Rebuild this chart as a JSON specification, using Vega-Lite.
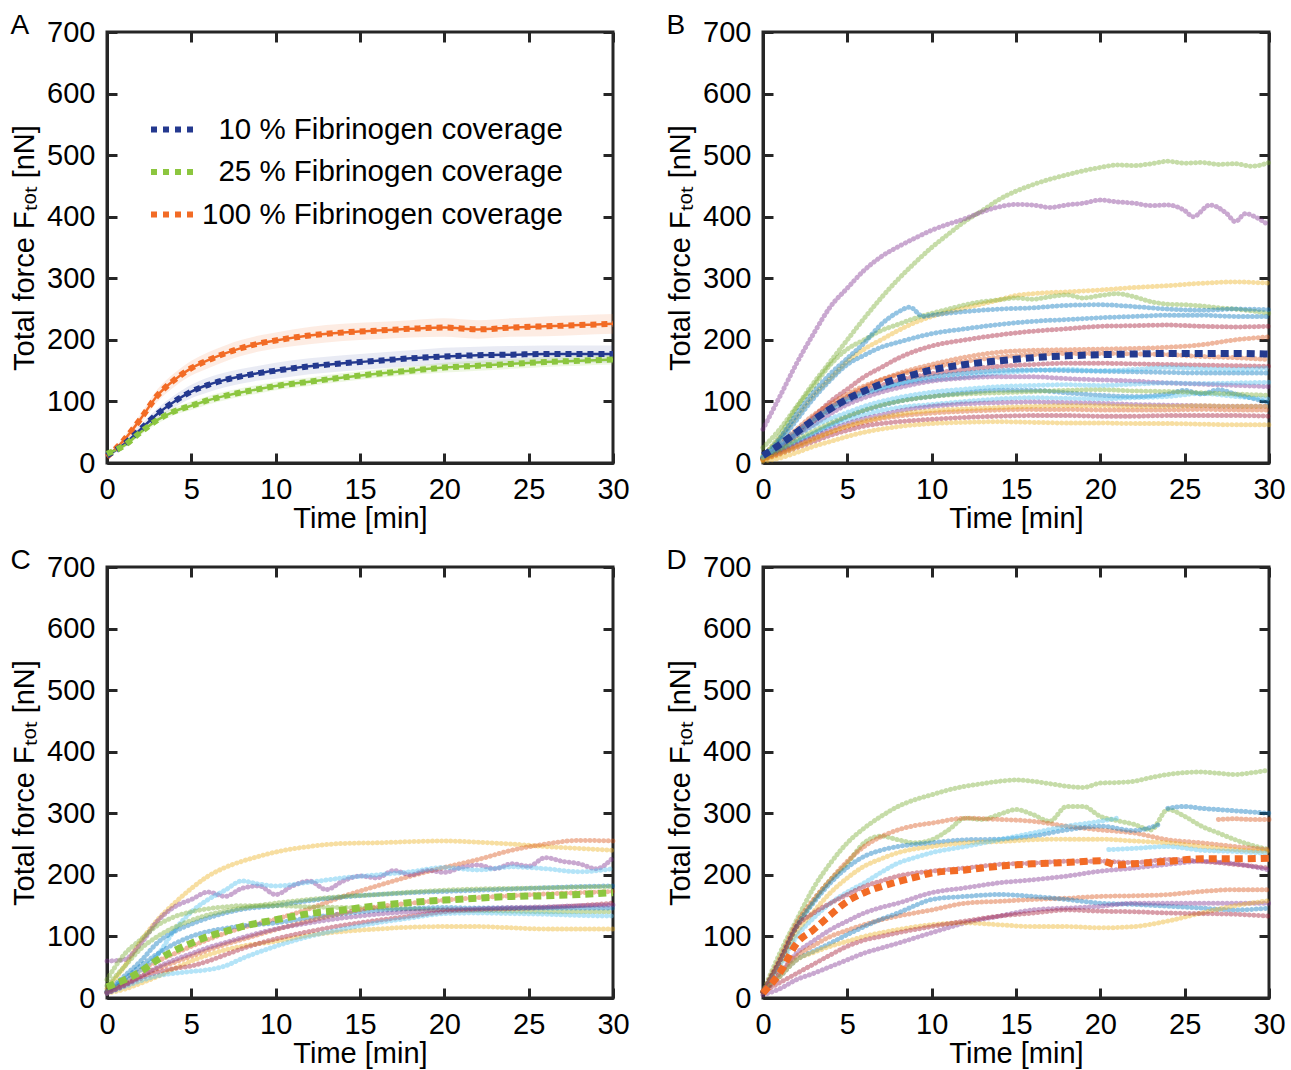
{
"$schema": "https://vega.github.io/schema/vega-lite/v6.json",
"background": "white",
"padding": {"left": 9, "top": 10, "right": 0, "bottom": 0},
"config": {
 "font": "Liberation Sans",
 "view": {"stroke": "#262626", "strokeWidth": 3},
 "axis": {"grid": false, "domainColor": "#262626", "domainWidth": 3, "tickColor": "#262626", "tickWidth": 3, "tickSize": -10, "labelPadding": 22, "labelFont": "Liberation Sans", "labelFontSize": 29, "labelColor": "#000000", "titleFont": "Liberation Sans", "titleFontSize": 29, "titleFontWeight": "normal", "titleColor": "#000000", "labelFlush": false, "labelOverlap": false},
 "axisX": {"titlePadding": 0},
 "axisY": {"titlePadding": 7},
 "title": {"font": "Liberation Sans", "fontSize": 28, "fontWeight": "normal", "color": "#000000", "anchor": "start", "frame": "bounds", "offset": -22}
},
"datasets": {
"A": [
{"g":"100","t":0,"m":10,"lo":7,"hi":13},{"g":"100","t":1,"m":37,"lo":31,"hi":43},{"g":"100","t":2,"m":72,"lo":64,"hi":80},{"g":"100","t":3,"m":110,"lo":100,"hi":120},{"g":"100","t":4,"m":135,"lo":124,"hi":146},{"g":"100","t":5,"m":154,"lo":142,"hi":166},{"g":"100","t":6,"m":167,"lo":154,"hi":180},{"g":"100","t":7,"m":178,"lo":165,"hi":191},{"g":"100","t":8,"m":187,"lo":174,"hi":200},{"g":"100","t":9,"m":194,"lo":181,"hi":207},{"g":"100","t":10,"m":199,"lo":186,"hi":212},{"g":"100","t":12,"m":207,"lo":193,"hi":221},{"g":"100","t":14,"m":212,"lo":198,"hi":226},{"g":"100","t":16,"m":215,"lo":201,"hi":229},{"g":"100","t":18,"m":218,"lo":204,"hi":232},{"g":"100","t":20,"m":220,"lo":205,"hi":235},{"g":"100","t":22,"m":217,"lo":202,"hi":232},{"g":"100","t":24,"m":220,"lo":205,"hi":235},{"g":"100","t":26,"m":222,"lo":206,"hi":238},{"g":"100","t":28,"m":224,"lo":208,"hi":240},{"g":"100","t":30,"m":226,"lo":210,"hi":242},
{"g":"10","t":0,"m":12,"lo":9,"hi":15},{"g":"10","t":1,"m":30,"lo":25,"hi":35},{"g":"10","t":2,"m":55,"lo":48,"hi":62},{"g":"10","t":3,"m":80,"lo":71,"hi":89},{"g":"10","t":4,"m":100,"lo":90,"hi":110},{"g":"10","t":5,"m":116,"lo":105,"hi":127},{"g":"10","t":6,"m":127,"lo":115,"hi":139},{"g":"10","t":7,"m":135,"lo":123,"hi":147},{"g":"10","t":8,"m":141,"lo":129,"hi":153},{"g":"10","t":9,"m":146,"lo":134,"hi":158},{"g":"10","t":10,"m":150,"lo":137,"hi":163},{"g":"10","t":12,"m":157,"lo":144,"hi":170},{"g":"10","t":14,"m":162,"lo":149,"hi":175},{"g":"10","t":16,"m":166,"lo":153,"hi":179},{"g":"10","t":18,"m":170,"lo":157,"hi":183},{"g":"10","t":20,"m":173,"lo":159,"hi":187},{"g":"10","t":22,"m":175,"lo":161,"hi":189},{"g":"10","t":24,"m":176,"lo":162,"hi":190},{"g":"10","t":26,"m":177,"lo":163,"hi":191},{"g":"10","t":28,"m":177,"lo":163,"hi":191},{"g":"10","t":30,"m":177,"lo":163,"hi":191},
{"g":"25","t":0,"m":15,"lo":12,"hi":18},{"g":"25","t":1,"m":28,"lo":24,"hi":32},{"g":"25","t":2,"m":50,"lo":45,"hi":55},{"g":"25","t":3,"m":70,"lo":64,"hi":76},{"g":"25","t":4,"m":84,"lo":78,"hi":90},{"g":"25","t":5,"m":93,"lo":86,"hi":100},{"g":"25","t":6,"m":102,"lo":95,"hi":109},{"g":"25","t":7,"m":109,"lo":102,"hi":116},{"g":"25","t":8,"m":115,"lo":108,"hi":122},{"g":"25","t":9,"m":120,"lo":113,"hi":127},{"g":"25","t":10,"m":125,"lo":118,"hi":132},{"g":"25","t":12,"m":132,"lo":125,"hi":139},{"g":"25","t":14,"m":139,"lo":132,"hi":146},{"g":"25","t":16,"m":145,"lo":138,"hi":152},{"g":"25","t":18,"m":150,"lo":143,"hi":157},{"g":"25","t":20,"m":155,"lo":147,"hi":163},{"g":"25","t":22,"m":158,"lo":150,"hi":166},{"g":"25","t":24,"m":161,"lo":153,"hi":169},{"g":"25","t":26,"m":164,"lo":156,"hi":172},{"g":"25","t":28,"m":166,"lo":158,"hi":174},{"g":"25","t":30,"m":168,"lo":160,"hi":176}
],
"B": [
{"c":"b1","t":0,"v":25},{"c":"b1","t":1,"v":55},{"c":"b1","t":2,"v":92},{"c":"b1","t":3,"v":130},{"c":"b1","t":4,"v":165},{"c":"b1","t":5,"v":200},{"c":"b1","t":6,"v":235},{"c":"b1","t":7,"v":268},{"c":"b1","t":8,"v":298},{"c":"b1","t":9,"v":325},{"c":"b1","t":10,"v":350},{"c":"b1","t":11,"v":372},{"c":"b1","t":12,"v":393},{"c":"b1","t":13,"v":410},{"c":"b1","t":14,"v":428},{"c":"b1","t":16,"v":452},{"c":"b1","t":18,"v":468},{"c":"b1","t":20,"v":480},{"c":"b1","t":21,"v":484},{"c":"b1","t":22,"v":483},{"c":"b1","t":23,"v":486},{"c":"b1","t":24,"v":490},{"c":"b1","t":25,"v":487},{"c":"b1","t":26,"v":488},{"c":"b1","t":27,"v":485},{"c":"b1","t":28,"v":486},{"c":"b1","t":29,"v":482},{"c":"b1","t":30,"v":488},
{"c":"b2","t":0,"v":55},{"c":"b2","t":1,"v":108},{"c":"b2","t":2,"v":162},{"c":"b2","t":3,"v":210},{"c":"b2","t":4,"v":254},{"c":"b2","t":5,"v":284},{"c":"b2","t":6,"v":313},{"c":"b2","t":7,"v":335},{"c":"b2","t":8,"v":351},{"c":"b2","t":9,"v":365},{"c":"b2","t":10,"v":378},{"c":"b2","t":11,"v":388},{"c":"b2","t":12,"v":397},{"c":"b2","t":13,"v":408},{"c":"b2","t":14,"v":416},{"c":"b2","t":15,"v":420},{"c":"b2","t":16,"v":419},{"c":"b2","t":17,"v":415},{"c":"b2","t":18,"v":419},{"c":"b2","t":19,"v":422},{"c":"b2","t":20,"v":427},{"c":"b2","t":21,"v":424},{"c":"b2","t":22,"v":422},{"c":"b2","t":23,"v":418},{"c":"b2","t":24,"v":419},{"c":"b2","t":25,"v":410},{"c":"b2","t":25.5,"v":400},{"c":"b2","t":26.5,"v":419},{"c":"b2","t":27.5,"v":405},{"c":"b2","t":28,"v":392},{"c":"b2","t":28.6,"v":405},{"c":"b2","t":29.3,"v":398},{"c":"b2","t":30,"v":386},
{"c":"b3","t":0,"v":12},{"c":"b3","t":1,"v":40},{"c":"b3","t":2,"v":75},{"c":"b3","t":3,"v":110},{"c":"b3","t":4,"v":138},{"c":"b3","t":5,"v":165},{"c":"b3","t":6,"v":185},{"c":"b3","t":7,"v":200},{"c":"b3","t":8,"v":215},{"c":"b3","t":9,"v":228},{"c":"b3","t":10,"v":238},{"c":"b3","t":12,"v":252},{"c":"b3","t":14,"v":265},{"c":"b3","t":15,"v":272},{"c":"b3","t":16,"v":275},{"c":"b3","t":18,"v":278},{"c":"b3","t":20,"v":281},{"c":"b3","t":22,"v":285},{"c":"b3","t":24,"v":288},{"c":"b3","t":26,"v":292},{"c":"b3","t":28,"v":294},{"c":"b3","t":30,"v":292},
{"c":"b4","t":0,"v":10},{"c":"b4","t":1,"v":45},{"c":"b4","t":2,"v":90},{"c":"b4","t":3,"v":125},{"c":"b4","t":4,"v":160},{"c":"b4","t":5,"v":185},{"c":"b4","t":6,"v":200},{"c":"b4","t":7,"v":215},{"c":"b4","t":8,"v":225},{"c":"b4","t":9,"v":235},{"c":"b4","t":10,"v":243},{"c":"b4","t":11,"v":250},{"c":"b4","t":12,"v":257},{"c":"b4","t":13,"v":262},{"c":"b4","t":14,"v":265},{"c":"b4","t":15,"v":268},{"c":"b4","t":16,"v":266},{"c":"b4","t":17,"v":270},{"c":"b4","t":18,"v":273},{"c":"b4","t":19,"v":268},{"c":"b4","t":20,"v":272},{"c":"b4","t":21,"v":275},{"c":"b4","t":22,"v":270},{"c":"b4","t":23,"v":262},{"c":"b4","t":24,"v":258},{"c":"b4","t":25,"v":257},{"c":"b4","t":26,"v":255},{"c":"b4","t":27,"v":252},{"c":"b4","t":28,"v":250},{"c":"b4","t":29,"v":247},{"c":"b4","t":30,"v":243},
{"c":"b5","t":0,"v":8},{"c":"b5","t":1,"v":40},{"c":"b5","t":2,"v":80},{"c":"b5","t":3,"v":115},{"c":"b5","t":4,"v":145},{"c":"b5","t":5,"v":170},{"c":"b5","t":6,"v":195},{"c":"b5","t":7,"v":225},{"c":"b5","t":8,"v":245},{"c":"b5","t":8.7,"v":253},{"c":"b5","t":9.5,"v":238},{"c":"b5","t":10,"v":240},{"c":"b5","t":12,"v":246},{"c":"b5","t":14,"v":250},{"c":"b5","t":16,"v":252},{"c":"b5","t":18,"v":256},{"c":"b5","t":20,"v":257},{"c":"b5","t":22,"v":254},{"c":"b5","t":24,"v":250},{"c":"b5","t":26,"v":248},{"c":"b5","t":28,"v":250},{"c":"b5","t":30,"v":249},
{"c":"b6","t":0,"v":8},{"c":"b6","t":1,"v":35},{"c":"b6","t":2,"v":70},{"c":"b6","t":3,"v":105},{"c":"b6","t":4,"v":135},{"c":"b6","t":5,"v":160},{"c":"b6","t":6,"v":175},{"c":"b6","t":7,"v":188},{"c":"b6","t":8,"v":196},{"c":"b6","t":10,"v":210},{"c":"b6","t":12,"v":218},{"c":"b6","t":14,"v":225},{"c":"b6","t":16,"v":230},{"c":"b6","t":18,"v":233},{"c":"b6","t":20,"v":236},{"c":"b6","t":22,"v":238},{"c":"b6","t":24,"v":240},{"c":"b6","t":26,"v":240},{"c":"b6","t":28,"v":238},{"c":"b6","t":30,"v":238},
{"c":"b7","t":0,"v":6},{"c":"b7","t":1,"v":25},{"c":"b7","t":2,"v":50},{"c":"b7","t":3,"v":75},{"c":"b7","t":4,"v":100},{"c":"b7","t":5,"v":120},{"c":"b7","t":6,"v":140},{"c":"b7","t":7,"v":155},{"c":"b7","t":8,"v":170},{"c":"b7","t":10,"v":190},{"c":"b7","t":12,"v":200},{"c":"b7","t":14,"v":208},{"c":"b7","t":16,"v":214},{"c":"b7","t":18,"v":218},{"c":"b7","t":20,"v":222},{"c":"b7","t":22,"v":223},{"c":"b7","t":24,"v":224},{"c":"b7","t":26,"v":222},{"c":"b7","t":28,"v":221},{"c":"b7","t":30,"v":222},
{"c":"b8","t":0,"v":5},{"c":"b8","t":1,"v":22},{"c":"b8","t":2,"v":45},{"c":"b8","t":3,"v":68},{"c":"b8","t":4,"v":90},{"c":"b8","t":5,"v":108},{"c":"b8","t":6,"v":122},{"c":"b8","t":7,"v":135},{"c":"b8","t":8,"v":145},{"c":"b8","t":10,"v":160},{"c":"b8","t":12,"v":172},{"c":"b8","t":14,"v":180},{"c":"b8","t":16,"v":183},{"c":"b8","t":18,"v":184},{"c":"b8","t":20,"v":185},{"c":"b8","t":22,"v":186},{"c":"b8","t":24,"v":188},{"c":"b8","t":26,"v":192},{"c":"b8","t":28,"v":200},{"c":"b8","t":30,"v":205},
{"c":"b9","t":0,"v":8},{"c":"b9","t":1,"v":30},{"c":"b9","t":2,"v":55},{"c":"b9","t":3,"v":78},{"c":"b9","t":4,"v":96},{"c":"b9","t":5,"v":112},{"c":"b9","t":6,"v":125},{"c":"b9","t":7,"v":135},{"c":"b9","t":8,"v":143},{"c":"b9","t":10,"v":155},{"c":"b9","t":12,"v":165},{"c":"b9","t":14,"v":172},{"c":"b9","t":16,"v":176},{"c":"b9","t":18,"v":178},{"c":"b9","t":20,"v":178},{"c":"b9","t":22,"v":177},{"c":"b9","t":24,"v":176},{"c":"b9","t":26,"v":173},{"c":"b9","t":28,"v":171},{"c":"b9","t":30,"v":168},
{"c":"b10","t":0,"v":8},{"c":"b10","t":1,"v":28},{"c":"b10","t":2,"v":52},{"c":"b10","t":3,"v":72},{"c":"b10","t":4,"v":90},{"c":"b10","t":5,"v":105},{"c":"b10","t":6,"v":117},{"c":"b10","t":7,"v":126},{"c":"b10","t":8,"v":134},{"c":"b10","t":10,"v":145},{"c":"b10","t":12,"v":152},{"c":"b10","t":14,"v":157},{"c":"b10","t":16,"v":160},{"c":"b10","t":18,"v":162},{"c":"b10","t":20,"v":162},{"c":"b10","t":22,"v":161},{"c":"b10","t":24,"v":160},{"c":"b10","t":26,"v":159},{"c":"b10","t":28,"v":158},{"c":"b10","t":30,"v":157},
{"c":"b11","t":0,"v":8},{"c":"b11","t":1,"v":26},{"c":"b11","t":2,"v":48},{"c":"b11","t":3,"v":68},{"c":"b11","t":4,"v":86},{"c":"b11","t":5,"v":100},{"c":"b11","t":6,"v":112},{"c":"b11","t":7,"v":120},{"c":"b11","t":8,"v":128},{"c":"b11","t":10,"v":140},{"c":"b11","t":12,"v":146},{"c":"b11","t":14,"v":150},{"c":"b11","t":16,"v":151},{"c":"b11","t":18,"v":150},{"c":"b11","t":20,"v":149},{"c":"b11","t":22,"v":148},{"c":"b11","t":24,"v":147},{"c":"b11","t":26,"v":146},{"c":"b11","t":28,"v":146},{"c":"b11","t":30,"v":146},
{"c":"b12","t":0,"v":10},{"c":"b12","t":1,"v":30},{"c":"b12","t":2,"v":52},{"c":"b12","t":3,"v":72},{"c":"b12","t":4,"v":90},{"c":"b12","t":5,"v":105},{"c":"b12","t":6,"v":115},{"c":"b12","t":7,"v":122},{"c":"b12","t":8,"v":128},{"c":"b12","t":10,"v":135},{"c":"b12","t":12,"v":140},{"c":"b12","t":14,"v":146},{"c":"b12","t":16,"v":150},{"c":"b12","t":18,"v":152},{"c":"b12","t":20,"v":150},{"c":"b12","t":22,"v":152},{"c":"b12","t":24,"v":155},{"c":"b12","t":26,"v":153},{"c":"b12","t":28,"v":152},{"c":"b12","t":30,"v":154},
{"c":"b13","t":0,"v":8},{"c":"b13","t":1,"v":25},{"c":"b13","t":2,"v":45},{"c":"b13","t":3,"v":62},{"c":"b13","t":4,"v":80},{"c":"b13","t":5,"v":95},{"c":"b13","t":6,"v":106},{"c":"b13","t":7,"v":115},{"c":"b13","t":8,"v":122},{"c":"b13","t":10,"v":133},{"c":"b13","t":12,"v":138},{"c":"b13","t":14,"v":140},{"c":"b13","t":16,"v":140},{"c":"b13","t":18,"v":137},{"c":"b13","t":20,"v":135},{"c":"b13","t":22,"v":133},{"c":"b13","t":24,"v":130},{"c":"b13","t":26,"v":128},{"c":"b13","t":28,"v":126},{"c":"b13","t":30,"v":124},
{"c":"b14","t":0,"v":8},{"c":"b14","t":1,"v":20},{"c":"b14","t":2,"v":35},{"c":"b14","t":3,"v":48},{"c":"b14","t":4,"v":62},{"c":"b14","t":5,"v":75},{"c":"b14","t":6,"v":85},{"c":"b14","t":7,"v":93},{"c":"b14","t":8,"v":100},{"c":"b14","t":10,"v":108},{"c":"b14","t":12,"v":114},{"c":"b14","t":14,"v":118},{"c":"b14","t":16,"v":118},{"c":"b14","t":18,"v":114},{"c":"b14","t":20,"v":110},{"c":"b14","t":22,"v":108},{"c":"b14","t":24,"v":112},{"c":"b14","t":25,"v":118},{"c":"b14","t":26,"v":112},{"c":"b14","t":27,"v":119},{"c":"b14","t":28,"v":112},{"c":"b14","t":30,"v":98},
{"c":"b15","t":0,"v":8},{"c":"b15","t":1,"v":20},{"c":"b15","t":2,"v":34},{"c":"b15","t":3,"v":48},{"c":"b15","t":4,"v":60},{"c":"b15","t":5,"v":70},{"c":"b15","t":6,"v":78},{"c":"b15","t":7,"v":85},{"c":"b15","t":8,"v":90},{"c":"b15","t":10,"v":95},{"c":"b15","t":12,"v":100},{"c":"b15","t":14,"v":104},{"c":"b15","t":16,"v":106},{"c":"b15","t":18,"v":105},{"c":"b15","t":20,"v":104},{"c":"b15","t":22,"v":106},{"c":"b15","t":24,"v":108},{"c":"b15","t":26,"v":113},{"c":"b15","t":28,"v":108},{"c":"b15","t":30,"v":104},
{"c":"b16","t":0,"v":8},{"c":"b16","t":1,"v":18},{"c":"b16","t":2,"v":30},{"c":"b16","t":3,"v":42},{"c":"b16","t":4,"v":54},{"c":"b16","t":5,"v":64},{"c":"b16","t":6,"v":72},{"c":"b16","t":7,"v":78},{"c":"b16","t":8,"v":84},{"c":"b16","t":10,"v":92},{"c":"b16","t":12,"v":96},{"c":"b16","t":14,"v":98},{"c":"b16","t":16,"v":99},{"c":"b16","t":18,"v":98},{"c":"b16","t":20,"v":97},{"c":"b16","t":22,"v":95},{"c":"b16","t":24,"v":94},{"c":"b16","t":26,"v":93},{"c":"b16","t":28,"v":92},{"c":"b16","t":30,"v":92},
{"c":"b17","t":0,"v":6},{"c":"b17","t":1,"v":15},{"c":"b17","t":2,"v":25},{"c":"b17","t":3,"v":35},{"c":"b17","t":4,"v":45},{"c":"b17","t":5,"v":53},{"c":"b17","t":6,"v":60},{"c":"b17","t":7,"v":64},{"c":"b17","t":8,"v":67},{"c":"b17","t":10,"v":71},{"c":"b17","t":12,"v":74},{"c":"b17","t":14,"v":76},{"c":"b17","t":16,"v":77},{"c":"b17","t":18,"v":77},{"c":"b17","t":20,"v":76},{"c":"b17","t":22,"v":76},{"c":"b17","t":24,"v":77},{"c":"b17","t":26,"v":77},{"c":"b17","t":28,"v":77},{"c":"b17","t":30,"v":76},
{"c":"b18","t":0,"v":3},{"c":"b18","t":1,"v":8},{"c":"b18","t":2,"v":17},{"c":"b18","t":3,"v":27},{"c":"b18","t":4,"v":35},{"c":"b18","t":5,"v":43},{"c":"b18","t":6,"v":50},{"c":"b18","t":7,"v":55},{"c":"b18","t":8,"v":59},{"c":"b18","t":10,"v":64},{"c":"b18","t":12,"v":66},{"c":"b18","t":14,"v":67},{"c":"b18","t":16,"v":66},{"c":"b18","t":18,"v":65},{"c":"b18","t":20,"v":65},{"c":"b18","t":22,"v":64},{"c":"b18","t":24,"v":64},{"c":"b18","t":26,"v":63},{"c":"b18","t":28,"v":62},{"c":"b18","t":30,"v":62},
{"c":"b19","t":0,"v":6},{"c":"b19","t":1,"v":16},{"c":"b19","t":2,"v":28},{"c":"b19","t":3,"v":40},{"c":"b19","t":4,"v":50},{"c":"b19","t":5,"v":59},{"c":"b19","t":6,"v":66},{"c":"b19","t":7,"v":72},{"c":"b19","t":8,"v":76},{"c":"b19","t":10,"v":81},{"c":"b19","t":12,"v":84},{"c":"b19","t":14,"v":86},{"c":"b19","t":16,"v":87},{"c":"b19","t":18,"v":87},{"c":"b19","t":20,"v":86},{"c":"b19","t":22,"v":86},{"c":"b19","t":24,"v":86},{"c":"b19","t":26,"v":87},{"c":"b19","t":28,"v":86},{"c":"b19","t":30,"v":86},
{"c":"b20","t":0,"v":8},{"c":"b20","t":1,"v":22},{"c":"b20","t":2,"v":38},{"c":"b20","t":3,"v":52},{"c":"b20","t":4,"v":65},{"c":"b20","t":5,"v":76},{"c":"b20","t":6,"v":86},{"c":"b20","t":7,"v":94},{"c":"b20","t":8,"v":100},{"c":"b20","t":10,"v":108},{"c":"b20","t":12,"v":112},{"c":"b20","t":14,"v":114},{"c":"b20","t":16,"v":116},{"c":"b20","t":18,"v":118},{"c":"b20","t":20,"v":119},{"c":"b20","t":22,"v":117},{"c":"b20","t":24,"v":116},{"c":"b20","t":26,"v":114},{"c":"b20","t":28,"v":112},{"c":"b20","t":30,"v":110},
{"c":"b21","t":0,"v":5},{"c":"b21","t":1,"v":14},{"c":"b21","t":2,"v":26},{"c":"b21","t":3,"v":38},{"c":"b21","t":4,"v":50},{"c":"b21","t":5,"v":60},{"c":"b21","t":6,"v":68},{"c":"b21","t":7,"v":74},{"c":"b21","t":8,"v":79},{"c":"b21","t":10,"v":85},{"c":"b21","t":12,"v":88},{"c":"b21","t":14,"v":90},{"c":"b21","t":16,"v":92},{"c":"b21","t":18,"v":93},{"c":"b21","t":20,"v":93},{"c":"b21","t":22,"v":92},{"c":"b21","t":24,"v":92},{"c":"b21","t":26,"v":93},{"c":"b21","t":28,"v":92},{"c":"b21","t":30,"v":92},
{"c":"b22","t":0,"v":10},{"c":"b22","t":1,"v":28},{"c":"b22","t":2,"v":45},{"c":"b22","t":3,"v":60},{"c":"b22","t":4,"v":72},{"c":"b22","t":5,"v":82},{"c":"b22","t":6,"v":92},{"c":"b22","t":7,"v":100},{"c":"b22","t":8,"v":106},{"c":"b22","t":10,"v":115},{"c":"b22","t":12,"v":120},{"c":"b22","t":14,"v":124},{"c":"b22","t":16,"v":126},{"c":"b22","t":18,"v":127},{"c":"b22","t":20,"v":126},{"c":"b22","t":22,"v":128},{"c":"b22","t":24,"v":130},{"c":"b22","t":26,"v":129},{"c":"b22","t":28,"v":130},{"c":"b22","t":30,"v":131}
],
"Bm": [
{"t":0,"v":12},{"t":1,"v":30},{"t":2,"v":50},{"t":3,"v":70},{"t":4,"v":88},{"t":5,"v":104},{"t":6,"v":117},{"t":7,"v":128},{"t":8,"v":137},{"t":9,"v":144},{"t":10,"v":151},{"t":12,"v":160},{"t":14,"v":166},{"t":16,"v":171},{"t":18,"v":174},{"t":20,"v":176},{"t":22,"v":177},{"t":24,"v":178},{"t":26,"v":178},{"t":28,"v":178},{"t":30,"v":177}
],
"C": [
{"c":"c1","t":0,"v":15},{"c":"c1","t":1,"v":50},{"c":"c1","t":2,"v":92},{"c":"c1","t":3,"v":127},{"c":"c1","t":4,"v":154},{"c":"c1","t":5,"v":178},{"c":"c1","t":6,"v":198},{"c":"c1","t":7,"v":212},{"c":"c1","t":8,"v":222},{"c":"c1","t":9,"v":230},{"c":"c1","t":10,"v":237},{"c":"c1","t":12,"v":246},{"c":"c1","t":14,"v":251},{"c":"c1","t":16,"v":252},{"c":"c1","t":18,"v":254},{"c":"c1","t":20,"v":255},{"c":"c1","t":22,"v":253},{"c":"c1","t":24,"v":250},{"c":"c1","t":26,"v":246},{"c":"c1","t":28,"v":243},{"c":"c1","t":30,"v":240},
{"c":"c2","t":0,"v":8},{"c":"c2","t":1,"v":25},{"c":"c2","t":2,"v":45},{"c":"c2","t":3,"v":60},{"c":"c2","t":4,"v":72},{"c":"c2","t":5,"v":84},{"c":"c2","t":6,"v":95},{"c":"c2","t":7,"v":105},{"c":"c2","t":8,"v":114},{"c":"c2","t":10,"v":128},{"c":"c2","t":12,"v":145},{"c":"c2","t":14,"v":165},{"c":"c2","t":16,"v":182},{"c":"c2","t":18,"v":198},{"c":"c2","t":20,"v":212},{"c":"c2","t":22,"v":225},{"c":"c2","t":24,"v":240},{"c":"c2","t":26,"v":250},{"c":"c2","t":28,"v":256},{"c":"c2","t":30,"v":255},
{"c":"c3","t":0,"v":60},{"c":"c3","t":1,"v":62},{"c":"c3","t":2,"v":88},{"c":"c3","t":3,"v":125},{"c":"c3","t":4,"v":148},{"c":"c3","t":5,"v":160},{"c":"c3","t":6,"v":172},{"c":"c3","t":7,"v":165},{"c":"c3","t":8,"v":178},{"c":"c3","t":9,"v":182},{"c":"c3","t":10,"v":168},{"c":"c3","t":11,"v":182},{"c":"c3","t":12,"v":190},{"c":"c3","t":13,"v":176},{"c":"c3","t":14,"v":190},{"c":"c3","t":15,"v":198},{"c":"c3","t":16,"v":195},{"c":"c3","t":17,"v":207},{"c":"c3","t":18,"v":200},{"c":"c3","t":19,"v":207},{"c":"c3","t":20,"v":204},{"c":"c3","t":21,"v":212},{"c":"c3","t":22,"v":216},{"c":"c3","t":23,"v":210},{"c":"c3","t":24,"v":218},{"c":"c3","t":25,"v":214},{"c":"c3","t":26,"v":228},{"c":"c3","t":27,"v":222},{"c":"c3","t":28,"v":218},{"c":"c3","t":29,"v":210},{"c":"c3","t":30,"v":228},
{"c":"c4","t":0,"v":10},{"c":"c4","t":1,"v":25},{"c":"c4","t":2,"v":45},{"c":"c4","t":3,"v":70},{"c":"c4","t":4,"v":110},{"c":"c4","t":5,"v":140},{"c":"c4","t":6,"v":160},{"c":"c4","t":7,"v":175},{"c":"c4","t":8,"v":190},{"c":"c4","t":9,"v":185},{"c":"c4","t":10,"v":182},{"c":"c4","t":12,"v":188},{"c":"c4","t":14,"v":195},{"c":"c4","t":16,"v":200},{"c":"c4","t":18,"v":205},{"c":"c4","t":20,"v":212},{"c":"c4","t":22,"v":208},{"c":"c4","t":24,"v":213},{"c":"c4","t":26,"v":210},{"c":"c4","t":28,"v":205},{"c":"c4","t":30,"v":210},
{"c":"c5","t":0,"v":10},{"c":"c5","t":1,"v":35},{"c":"c5","t":2,"v":60},{"c":"c5","t":3,"v":90},{"c":"c5","t":4,"v":108},{"c":"c5","t":5,"v":120},{"c":"c5","t":6,"v":130},{"c":"c5","t":7,"v":138},{"c":"c5","t":8,"v":144},{"c":"c5","t":10,"v":150},{"c":"c5","t":12,"v":158},{"c":"c5","t":14,"v":164},{"c":"c5","t":16,"v":168},{"c":"c5","t":18,"v":171},{"c":"c5","t":20,"v":173},{"c":"c5","t":22,"v":175},{"c":"c5","t":24,"v":177},{"c":"c5","t":26,"v":179},{"c":"c5","t":28,"v":181},{"c":"c5","t":30,"v":182},
{"c":"c6","t":0,"v":30},{"c":"c6","t":1,"v":70},{"c":"c6","t":2,"v":95},{"c":"c6","t":3,"v":118},{"c":"c6","t":4,"v":132},{"c":"c6","t":5,"v":140},{"c":"c6","t":6,"v":145},{"c":"c6","t":7,"v":148},{"c":"c6","t":8,"v":150},{"c":"c6","t":10,"v":150},{"c":"c6","t":12,"v":148},{"c":"c6","t":14,"v":147},{"c":"c6","t":16,"v":146},{"c":"c6","t":18,"v":145},{"c":"c6","t":20,"v":143},{"c":"c6","t":22,"v":142},{"c":"c6","t":24,"v":141},{"c":"c6","t":26,"v":140},{"c":"c6","t":28,"v":140},{"c":"c6","t":30,"v":140},
{"c":"c7","t":0,"v":8},{"c":"c7","t":1,"v":14},{"c":"c7","t":2,"v":24},{"c":"c7","t":3,"v":35},{"c":"c7","t":4,"v":48},{"c":"c7","t":5,"v":60},{"c":"c7","t":6,"v":70},{"c":"c7","t":7,"v":78},{"c":"c7","t":8,"v":84},{"c":"c7","t":10,"v":92},{"c":"c7","t":12,"v":102},{"c":"c7","t":14,"v":108},{"c":"c7","t":16,"v":112},{"c":"c7","t":18,"v":115},{"c":"c7","t":20,"v":116},{"c":"c7","t":22,"v":116},{"c":"c7","t":24,"v":114},{"c":"c7","t":26,"v":112},{"c":"c7","t":28,"v":112},{"c":"c7","t":30,"v":112},
{"c":"c8","t":0,"v":8},{"c":"c8","t":1,"v":20},{"c":"c8","t":2,"v":32},{"c":"c8","t":3,"v":42},{"c":"c8","t":4,"v":48},{"c":"c8","t":5,"v":52},{"c":"c8","t":6,"v":60},{"c":"c8","t":7,"v":70},{"c":"c8","t":8,"v":80},{"c":"c8","t":10,"v":96},{"c":"c8","t":12,"v":108},{"c":"c8","t":14,"v":118},{"c":"c8","t":16,"v":126},{"c":"c8","t":18,"v":133},{"c":"c8","t":20,"v":140},{"c":"c8","t":22,"v":143},{"c":"c8","t":24,"v":145},{"c":"c8","t":26,"v":147},{"c":"c8","t":28,"v":150},{"c":"c8","t":30,"v":154},
{"c":"c9","t":0,"v":8},{"c":"c9","t":1,"v":18},{"c":"c9","t":2,"v":28},{"c":"c9","t":3,"v":36},{"c":"c9","t":4,"v":40},{"c":"c9","t":5,"v":43},{"c":"c9","t":6,"v":46},{"c":"c9","t":7,"v":52},{"c":"c9","t":8,"v":64},{"c":"c9","t":10,"v":84},{"c":"c9","t":12,"v":100},{"c":"c9","t":14,"v":112},{"c":"c9","t":16,"v":122},{"c":"c9","t":18,"v":130},{"c":"c9","t":20,"v":137},{"c":"c9","t":22,"v":138},{"c":"c9","t":24,"v":137},{"c":"c9","t":26,"v":136},{"c":"c9","t":28,"v":134},{"c":"c9","t":30,"v":133},
{"c":"c10","t":0,"v":10},{"c":"c10","t":1,"v":30},{"c":"c10","t":2,"v":52},{"c":"c10","t":3,"v":72},{"c":"c10","t":4,"v":88},{"c":"c10","t":5,"v":100},{"c":"c10","t":6,"v":108},{"c":"c10","t":7,"v":113},{"c":"c10","t":8,"v":117},{"c":"c10","t":10,"v":122},{"c":"c10","t":12,"v":130},{"c":"c10","t":14,"v":137},{"c":"c10","t":16,"v":142},{"c":"c10","t":18,"v":145},{"c":"c10","t":20,"v":147},{"c":"c10","t":22,"v":146},{"c":"c10","t":24,"v":146},{"c":"c10","t":26,"v":146},{"c":"c10","t":28,"v":146},{"c":"c10","t":30,"v":146},
{"c":"c11","t":0,"v":10},{"c":"c11","t":1,"v":22},{"c":"c11","t":2,"v":35},{"c":"c11","t":3,"v":48},{"c":"c11","t":4,"v":58},{"c":"c11","t":5,"v":68},{"c":"c11","t":6,"v":78},{"c":"c11","t":7,"v":87},{"c":"c11","t":8,"v":95},{"c":"c11","t":10,"v":111},{"c":"c11","t":12,"v":125},{"c":"c11","t":14,"v":138},{"c":"c11","t":16,"v":148},{"c":"c11","t":18,"v":154},{"c":"c11","t":20,"v":159},{"c":"c11","t":22,"v":163},{"c":"c11","t":24,"v":166},{"c":"c11","t":26,"v":169},{"c":"c11","t":28,"v":171},{"c":"c11","t":30,"v":173},
{"c":"c12","t":0,"v":20},{"c":"c12","t":1,"v":50},{"c":"c12","t":2,"v":80},{"c":"c12","t":3,"v":100},{"c":"c12","t":4,"v":115},{"c":"c12","t":5,"v":126},{"c":"c12","t":6,"v":135},{"c":"c12","t":7,"v":141},{"c":"c12","t":8,"v":146},{"c":"c12","t":10,"v":154},{"c":"c12","t":12,"v":160},{"c":"c12","t":14,"v":165},{"c":"c12","t":16,"v":168},{"c":"c12","t":18,"v":172},{"c":"c12","t":20,"v":175},{"c":"c12","t":22,"v":177},{"c":"c12","t":24,"v":178},{"c":"c12","t":26,"v":179},{"c":"c12","t":28,"v":180},{"c":"c12","t":30,"v":181},
{"c":"c13","t":0,"v":8},{"c":"c13","t":1,"v":20},{"c":"c13","t":2,"v":35},{"c":"c13","t":3,"v":50},{"c":"c13","t":4,"v":62},{"c":"c13","t":5,"v":72},{"c":"c13","t":6,"v":82},{"c":"c13","t":7,"v":90},{"c":"c13","t":8,"v":98},{"c":"c13","t":10,"v":112},{"c":"c13","t":12,"v":122},{"c":"c13","t":14,"v":130},{"c":"c13","t":16,"v":136},{"c":"c13","t":18,"v":140},{"c":"c13","t":20,"v":143},{"c":"c13","t":22,"v":145},{"c":"c13","t":24,"v":147},{"c":"c13","t":26,"v":148},{"c":"c13","t":28,"v":150},{"c":"c13","t":30,"v":151}
],
"Cm": [
{"t":0,"v":18},{"t":1,"v":29},{"t":2,"v":43},{"t":3,"v":62},{"t":4,"v":77},{"t":5,"v":89},{"t":6,"v":100},{"t":7,"v":108},{"t":8,"v":116},{"t":9,"v":122},{"t":10,"v":127},{"t":12,"v":137},{"t":14,"v":143},{"t":16,"v":150},{"t":18,"v":155},{"t":20,"v":159},{"t":22,"v":162},{"t":24,"v":165},{"t":26,"v":166},{"t":28,"v":168},{"t":30,"v":171}
],
"D": [
{"c":"d1","t":0,"v":10},{"c":"d1","t":1,"v":73},{"c":"d1","t":2,"v":127},{"c":"d1","t":3,"v":179},{"c":"d1","t":4,"v":219},{"c":"d1","t":5,"v":252},{"c":"d1","t":6,"v":276},{"c":"d1","t":7,"v":295},{"c":"d1","t":8,"v":311},{"c":"d1","t":9,"v":322},{"c":"d1","t":10,"v":330},{"c":"d1","t":11,"v":338},{"c":"d1","t":12,"v":344},{"c":"d1","t":13,"v":348},{"c":"d1","t":14,"v":352},{"c":"d1","t":15,"v":354},{"c":"d1","t":16,"v":352},{"c":"d1","t":17,"v":348},{"c":"d1","t":18,"v":344},{"c":"d1","t":19,"v":342},{"c":"d1","t":20,"v":349},{"c":"d1","t":21,"v":350},{"c":"d1","t":22,"v":352},{"c":"d1","t":23,"v":358},{"c":"d1","t":24,"v":363},{"c":"d1","t":25,"v":366},{"c":"d1","t":26,"v":367},{"c":"d1","t":27,"v":365},{"c":"d1","t":28,"v":363},{"c":"d1","t":29,"v":366},{"c":"d1","t":30,"v":370},
{"c":"d2","t":0,"v":10},{"c":"d2","t":1,"v":60},{"c":"d2","t":2,"v":116},{"c":"d2","t":3,"v":158},{"c":"d2","t":4,"v":192},{"c":"d2","t":5,"v":219},{"c":"d2","t":6,"v":252},{"c":"d2","t":7,"v":263},{"c":"d2","t":8,"v":257},{"c":"d2","t":9,"v":252},{"c":"d2","t":10,"v":257},{"c":"d2","t":11,"v":273},{"c":"d2","t":12,"v":292},{"c":"d2","t":13,"v":290},{"c":"d2","t":14,"v":298},{"c":"d2","t":15,"v":306},{"c":"d2","t":16,"v":298},{"c":"d2","t":17,"v":287},{"c":"d2","t":18,"v":311},{"c":"d2","t":19,"v":311},{"c":"d2","t":20,"v":295},{"c":"d2","t":21,"v":288},{"c":"d2","t":22,"v":282},{"c":"d2","t":23,"v":273},{"c":"d2","t":24,"v":306},{"c":"d2","t":25,"v":295},{"c":"d2","t":26,"v":279},{"c":"d2","t":27,"v":268},{"c":"d2","t":28,"v":257},{"c":"d2","t":29,"v":248},{"c":"d2","t":30,"v":241},
{"c":"d3","t":0,"v":10},{"c":"d3","t":1,"v":65},{"c":"d3","t":2,"v":122},{"c":"d3","t":3,"v":160},{"c":"d3","t":4,"v":192},{"c":"d3","t":5,"v":222},{"c":"d3","t":6,"v":246},{"c":"d3","t":7,"v":262},{"c":"d3","t":8,"v":273},{"c":"d3","t":9,"v":280},{"c":"d3","t":10,"v":284},{"c":"d3","t":12,"v":292},{"c":"d3","t":14,"v":290},{"c":"d3","t":16,"v":287},{"c":"d3","t":18,"v":279},{"c":"d3","t":20,"v":273},{"c":"d3","t":22,"v":268},{"c":"d3","t":24,"v":257},{"c":"d3","t":26,"v":252},{"c":"d3","t":28,"v":246},{"c":"d3","t":30,"v":241},
{"c":"d3b","t":27,"v":290},{"c":"d3b","t":28,"v":291},{"c":"d3b","t":29,"v":290},{"c":"d3b","t":30,"v":290},
{"c":"d4","t":0,"v":10},{"c":"d4","t":1,"v":60},{"c":"d4","t":2,"v":116},{"c":"d4","t":3,"v":155},{"c":"d4","t":4,"v":187},{"c":"d4","t":5,"v":212},{"c":"d4","t":6,"v":230},{"c":"d4","t":7,"v":240},{"c":"d4","t":8,"v":246},{"c":"d4","t":10,"v":252},{"c":"d4","t":12,"v":257},{"c":"d4","t":14,"v":258},{"c":"d4","t":16,"v":263},{"c":"d4","t":18,"v":273},{"c":"d4","t":20,"v":279},{"c":"d4","t":22,"v":272},{"c":"d4","t":23.5,"v":282},
{"c":"d4b","t":24,"v":308},{"c":"d4b","t":25,"v":311},{"c":"d4b","t":26,"v":308},{"c":"d4b","t":27,"v":306},{"c":"d4b","t":28,"v":304},{"c":"d4b","t":29,"v":302},{"c":"d4b","t":30,"v":300},
{"c":"d5","t":0,"v":10},{"c":"d5","t":1,"v":55},{"c":"d5","t":2,"v":106},{"c":"d5","t":3,"v":140},{"c":"d5","t":4,"v":171},{"c":"d5","t":5,"v":195},{"c":"d5","t":6,"v":214},{"c":"d5","t":7,"v":226},{"c":"d5","t":8,"v":236},{"c":"d5","t":10,"v":246},{"c":"d5","t":12,"v":252},{"c":"d5","t":14,"v":254},{"c":"d5","t":16,"v":257},{"c":"d5","t":18,"v":258},{"c":"d5","t":20,"v":258},{"c":"d5","t":22,"v":255},{"c":"d5","t":24,"v":252},{"c":"d5","t":26,"v":246},{"c":"d5","t":28,"v":241},{"c":"d5","t":30,"v":238},
{"c":"d6","t":0,"v":10},{"c":"d6","t":1,"v":52},{"c":"d6","t":2,"v":100},{"c":"d6","t":3,"v":130},{"c":"d6","t":4,"v":154},{"c":"d6","t":5,"v":172},{"c":"d6","t":6,"v":187},{"c":"d6","t":7,"v":204},{"c":"d6","t":8,"v":219},{"c":"d6","t":9,"v":228},{"c":"d6","t":10,"v":236},{"c":"d6","t":12,"v":246},{"c":"d6","t":14,"v":257},{"c":"d6","t":16,"v":268},{"c":"d6","t":18,"v":279},{"c":"d6","t":20,"v":287},{"c":"d6","t":21,"v":292},
{"c":"d6b","t":20.5,"v":241},{"c":"d6b","t":22,"v":243},{"c":"d6b","t":24,"v":246},{"c":"d6b","t":26,"v":240},{"c":"d6b","t":28,"v":238},{"c":"d6b","t":30,"v":235},
{"c":"d7","t":0,"v":10},{"c":"d7","t":1,"v":60},{"c":"d7","t":2,"v":116},{"c":"d7","t":3,"v":138},{"c":"d7","t":4,"v":154},{"c":"d7","t":5,"v":168},{"c":"d7","t":6,"v":181},{"c":"d7","t":7,"v":190},{"c":"d7","t":8,"v":198},{"c":"d7","t":10,"v":206},{"c":"d7","t":12,"v":211},{"c":"d7","t":14,"v":217},{"c":"d7","t":16,"v":219},{"c":"d7","t":18,"v":222},{"c":"d7","t":20,"v":222},{"c":"d7","t":22,"v":220},{"c":"d7","t":24,"v":225},{"c":"d7","t":26,"v":222},{"c":"d7","t":28,"v":217},{"c":"d7","t":30,"v":211},
{"c":"d8","t":0,"v":10},{"c":"d8","t":1,"v":40},{"c":"d8","t":2,"v":73},{"c":"d8","t":3,"v":93},{"c":"d8","t":4,"v":111},{"c":"d8","t":5,"v":125},{"c":"d8","t":6,"v":138},{"c":"d8","t":7,"v":147},{"c":"d8","t":8,"v":154},{"c":"d8","t":10,"v":171},{"c":"d8","t":12,"v":179},{"c":"d8","t":14,"v":187},{"c":"d8","t":16,"v":192},{"c":"d8","t":18,"v":198},{"c":"d8","t":20,"v":206},{"c":"d8","t":22,"v":211},{"c":"d8","t":24,"v":217},{"c":"d8","t":26,"v":222},{"c":"d8","t":28,"v":218},{"c":"d8","t":30,"v":208},
{"c":"d9","t":0,"v":10},{"c":"d9","t":1,"v":40},{"c":"d9","t":2,"v":68},{"c":"d9","t":3,"v":85},{"c":"d9","t":4,"v":100},{"c":"d9","t":5,"v":110},{"c":"d9","t":6,"v":119},{"c":"d9","t":7,"v":127},{"c":"d9","t":8,"v":133},{"c":"d9","t":10,"v":143},{"c":"d9","t":12,"v":154},{"c":"d9","t":14,"v":157},{"c":"d9","t":16,"v":160},{"c":"d9","t":18,"v":162},{"c":"d9","t":20,"v":165},{"c":"d9","t":22,"v":166},{"c":"d9","t":24,"v":168},{"c":"d9","t":26,"v":173},{"c":"d9","t":28,"v":176},{"c":"d9","t":30,"v":176},
{"c":"d10","t":0,"v":10},{"c":"d10","t":1,"v":35},{"c":"d10","t":2,"v":62},{"c":"d10","t":3,"v":76},{"c":"d10","t":4,"v":89},{"c":"d10","t":5,"v":103},{"c":"d10","t":6,"v":116},{"c":"d10","t":7,"v":128},{"c":"d10","t":8,"v":138},{"c":"d10","t":9,"v":150},{"c":"d10","t":10,"v":160},{"c":"d10","t":12,"v":165},{"c":"d10","t":14,"v":168},{"c":"d10","t":16,"v":165},{"c":"d10","t":18,"v":160},{"c":"d10","t":20,"v":154},{"c":"d10","t":22,"v":152},{"c":"d10","t":24,"v":149},{"c":"d10","t":26,"v":146},{"c":"d10","t":28,"v":143},{"c":"d10","t":30,"v":146},
{"c":"d11","t":0,"v":5},{"c":"d11","t":1,"v":15},{"c":"d11","t":2,"v":30},{"c":"d11","t":3,"v":40},{"c":"d11","t":4,"v":51},{"c":"d11","t":5,"v":62},{"c":"d11","t":6,"v":73},{"c":"d11","t":7,"v":81},{"c":"d11","t":8,"v":89},{"c":"d11","t":10,"v":106},{"c":"d11","t":12,"v":122},{"c":"d11","t":14,"v":133},{"c":"d11","t":16,"v":143},{"c":"d11","t":18,"v":146},{"c":"d11","t":20,"v":149},{"c":"d11","t":22,"v":154},{"c":"d11","t":24,"v":154},{"c":"d11","t":26,"v":154},{"c":"d11","t":28,"v":154},{"c":"d11","t":30,"v":154},
{"c":"d12","t":0,"v":10},{"c":"d12","t":1,"v":35},{"c":"d12","t":2,"v":62},{"c":"d12","t":3,"v":74},{"c":"d12","t":4,"v":84},{"c":"d12","t":5,"v":92},{"c":"d12","t":6,"v":100},{"c":"d12","t":7,"v":106},{"c":"d12","t":8,"v":111},{"c":"d12","t":10,"v":119},{"c":"d12","t":12,"v":122},{"c":"d12","t":14,"v":119},{"c":"d12","t":16,"v":116},{"c":"d12","t":18,"v":116},{"c":"d12","t":20,"v":114},{"c":"d12","t":22,"v":116},{"c":"d12","t":24,"v":125},{"c":"d12","t":26,"v":138},{"c":"d12","t":28,"v":150},{"c":"d12","t":30,"v":158},
{"c":"d13","t":0,"v":10},{"c":"d13","t":1,"v":25},{"c":"d13","t":2,"v":40},{"c":"d13","t":3,"v":55},{"c":"d13","t":4,"v":70},{"c":"d13","t":5,"v":84},{"c":"d13","t":6,"v":94},{"c":"d13","t":7,"v":100},{"c":"d13","t":8,"v":106},{"c":"d13","t":10,"v":116},{"c":"d13","t":12,"v":125},{"c":"d13","t":14,"v":133},{"c":"d13","t":16,"v":138},{"c":"d13","t":18,"v":143},{"c":"d13","t":20,"v":141},{"c":"d13","t":22,"v":140},{"c":"d13","t":24,"v":138},{"c":"d13","t":26,"v":137},{"c":"d13","t":28,"v":136},{"c":"d13","t":30,"v":133}
],
"Dm": [
{"t":0,"v":8},{"t":1,"v":41},{"t":2,"v":89},{"t":3,"v":111},{"t":4,"v":135},{"t":5,"v":157},{"t":6,"v":171},{"t":7,"v":181},{"t":8,"v":189},{"t":9,"v":196},{"t":10,"v":203},{"t":12,"v":208},{"t":14,"v":214},{"t":16,"v":218},{"t":18,"v":220},{"t":20,"v":223},{"t":21,"v":216},{"t":22,"v":218},{"t":23,"v":220},{"t":24,"v":222},{"t":26,"v":226},{"t":28,"v":226},{"t":30,"v":227}
]
},
"columns": 2,
"spacing": {"row": 10, "column": 34},
"resolve": {"scale": {"color": "independent", "x": "independent", "y": "independent"}},
"concat": [
{
 "title": {"text": "A"},
 "width": 506, "height": 431,
 "layer": [
  {"layer": [
   {"data": {"name": "A"}, "transform": [{"filter": "datum.g == '100'"}], "mark": {"type": "area", "interpolate": "monotone", "opacity": 0.13, "color": "#f26b25"},
    "encoding": {
     "x": {"field": "t", "type": "quantitative", "scale": {"domain": [0, 30], "nice": false}, "axis": {"orient": "bottom", "values": [0,5,10,15,20,25,30], "title": "Time [min]"}},
     "y": {"field": "lo", "type": "quantitative", "scale": {"domain": [0, 700], "nice": false}, "axis": {"orient": "left", "values": [0,100,200,300,400,500,600,700], "title": "Total force F\u209c\u2092\u209c [nN]"}},
     "y2": {"field": "hi"}
    }},
   {"data": {"name": "A"}, "transform": [{"filter": "datum.g == '10'"}], "mark": {"type": "area", "interpolate": "monotone", "opacity": 0.1, "color": "#24398f"},
    "encoding": {"x": {"field": "t", "type": "quantitative"}, "y": {"field": "lo", "type": "quantitative"}, "y2": {"field": "hi"}}},
   {"data": {"name": "A"}, "transform": [{"filter": "datum.g == '25'"}], "mark": {"type": "area", "interpolate": "monotone", "opacity": 0.15, "color": "#8cc63f"},
    "encoding": {"x": {"field": "t", "type": "quantitative"}, "y": {"field": "lo", "type": "quantitative"}, "y2": {"field": "hi"}}},
   {"data": {"name": "A"}, "mark": {"type": "line", "interpolate": "monotone", "strokeWidth": 2.5},
    "encoding": {
     "x": {"field": "t", "type": "quantitative"},
     "y": {"field": "m", "type": "quantitative"},
     "color": {"field": "g", "type": "nominal", "scale": {"domain": ["10","25","100"], "range": ["#24398f","#8cc63f","#f26b25"]},
      "legend": {"orient": "none", "legendX": 41, "legendY": 73.5, "title": null, "symbolType": "stroke", "symbolSize": 1764, "symbolStrokeWidth": 6, "symbolDash": [6,6], "labelFont": "Liberation Sans", "labelFontSize": 29.5, "labelColor": "#000000", "labelOffset": 6, "rowPadding": 3.5, "padding": 0, "labelLimit": 0,
       "labelExpr": "datum.label == '100' ? '100 % Fibrinogen coverage' : '\u200b\u2007' + datum.label + ' % Fibrinogen coverage'"}}
    }},
   {"data": {"name": "A"}, "mark": {"type": "line", "interpolate": "monotone", "strokeWidth": 6, "strokeDash": [6, 5]},
    "encoding": {
     "x": {"field": "t", "type": "quantitative"},
     "y": {"field": "m", "type": "quantitative"},
     "color": {"field": "g", "type": "nominal"}
    }}
  ]},
  {"data": {"name": "Bm"}, "mark": {"type": "line", "opacity": 0},
   "encoding": {
    "x": {"field": "t", "type": "quantitative", "axis": {"orient": "top", "labels": false, "domain": false, "title": null, "values": [0,5,10,15,20,25,30]}},
    "y": {"field": "v", "type": "quantitative", "axis": {"orient": "right", "labels": false, "domain": false, "title": null, "values": [0,100,200,300,400,500,600,700]}}
   }}
 ],
 "resolve": {"axis": {"x": "independent", "y": "independent"}}
},
{
 "title": {"text": "B"},
 "width": 506, "height": 431,
 "layer": [
  {"layer": [
   {"data": {"name": "B"}, "mark": {"type": "line", "interpolate": "monotone", "strokeWidth": 5, "strokeDash": [0.1, 4.5], "strokeCap": "round", "opacity": 0.42},
    "encoding": {
     "x": {"field": "t", "type": "quantitative", "scale": {"domain": [0, 30], "nice": false}, "axis": {"orient": "bottom", "values": [0,5,10,15,20,25,30], "title": "Time [min]"}},
     "y": {"field": "v", "type": "quantitative", "scale": {"domain": [0, 700], "nice": false}, "axis": {"orient": "left", "values": [0,100,200,300,400,500,600,700], "title": "Total force F\u209c\u2092\u209c [nN]"}},
     "color": {"field": "c", "type": "nominal", "legend": null, "scale": {
      "domain": ["b1","b2","b3","b4","b5","b6","b7","b8","b9","b10","b11","b12","b13","b14","b15","b16","b17","b18","b19","b20","b21","b22"],
      "range": ["#77AC30","#7E2F8E","#EDB120","#77AC30","#0072BD","#0072BD","#A2142F","#D95319","#D95319","#A2142F","#0072BD","#4DBEEE","#7E2F8E","#0072BD","#4DBEEE","#7E2F8E","#A2142F","#EDB120","#D95319","#77AC30","#EDB120","#4DBEEE"]}}
    }},
   {"data": {"name": "Bm"}, "mark": {"type": "line", "interpolate": "monotone", "color": "#233a8f", "strokeWidth": 7, "strokeDash": [8, 5]},
    "encoding": {"x": {"field": "t", "type": "quantitative"}, "y": {"field": "v", "type": "quantitative"}}}
  ]},
  {"data": {"name": "Bm"}, "mark": {"type": "line", "opacity": 0},
   "encoding": {
    "x": {"field": "t", "type": "quantitative", "axis": {"orient": "top", "labels": false, "domain": false, "title": null, "values": [0,5,10,15,20,25,30]}},
    "y": {"field": "v", "type": "quantitative", "axis": {"orient": "right", "labels": false, "domain": false, "title": null, "values": [0,100,200,300,400,500,600,700]}}
   }}
 ],
 "resolve": {"axis": {"x": "independent", "y": "independent"}}
},
{
 "title": {"text": "C"},
 "width": 506, "height": 431,
 "layer": [
  {"layer": [
   {"data": {"name": "C"}, "mark": {"type": "line", "interpolate": "monotone", "strokeWidth": 5, "strokeDash": [0.1, 4.5], "strokeCap": "round", "opacity": 0.42},
    "encoding": {
     "x": {"field": "t", "type": "quantitative", "scale": {"domain": [0, 30], "nice": false}, "axis": {"orient": "bottom", "values": [0,5,10,15,20,25,30], "title": "Time [min]"}},
     "y": {"field": "v", "type": "quantitative", "scale": {"domain": [0, 700], "nice": false}, "axis": {"orient": "left", "values": [0,100,200,300,400,500,600,700], "title": "Total force F\u209c\u2092\u209c [nN]"}},
     "color": {"field": "c", "type": "nominal", "legend": null, "scale": {
      "domain": ["c1","c2","c3","c4","c5","c6","c7","c8","c9","c10","c11","c12","c13"],
      "range": ["#EDB120","#D95319","#7E2F8E","#4DBEEE","#0072BD","#77AC30","#EDB120","#A2142F","#4DBEEE","#0072BD","#D95319","#77AC30","#7E2F8E"]}}
    }},
   {"data": {"name": "Cm"}, "mark": {"type": "line", "interpolate": "monotone", "color": "#8cc63f", "strokeWidth": 7, "strokeDash": [8, 5]},
    "encoding": {"x": {"field": "t", "type": "quantitative"}, "y": {"field": "v", "type": "quantitative"}}}
  ]},
  {"data": {"name": "Cm"}, "mark": {"type": "line", "opacity": 0},
   "encoding": {
    "x": {"field": "t", "type": "quantitative", "axis": {"orient": "top", "labels": false, "domain": false, "title": null, "values": [0,5,10,15,20,25,30]}},
    "y": {"field": "v", "type": "quantitative", "axis": {"orient": "right", "labels": false, "domain": false, "title": null, "values": [0,100,200,300,400,500,600,700]}}
   }}
 ],
 "resolve": {"axis": {"x": "independent", "y": "independent"}}
},
{
 "title": {"text": "D"},
 "width": 506, "height": 431,
 "layer": [
  {"layer": [
   {"data": {"name": "D"}, "mark": {"type": "line", "interpolate": "monotone", "strokeWidth": 5, "strokeDash": [0.1, 4.5], "strokeCap": "round", "opacity": 0.42},
    "encoding": {
     "x": {"field": "t", "type": "quantitative", "scale": {"domain": [0, 30], "nice": false}, "axis": {"orient": "bottom", "values": [0,5,10,15,20,25,30], "title": "Time [min]"}},
     "y": {"field": "v", "type": "quantitative", "scale": {"domain": [0, 700], "nice": false}, "axis": {"orient": "left", "values": [0,100,200,300,400,500,600,700], "title": "Total force F\u209c\u2092\u209c [nN]"}},
     "color": {"field": "c", "type": "nominal", "legend": null, "scale": {
      "domain": ["d1","d2","d3","d3b","d4","d4b","d5","d6","d6b","d7","d8","d9","d10","d11","d12","d13"],
      "range": ["#77AC30","#77AC30","#D95319","#D95319","#0072BD","#0072BD","#EDB120","#4DBEEE","#4DBEEE","#A2142F","#7E2F8E","#D95319","#0072BD","#7E2F8E","#EDB120","#A2142F"]}}
    }},
   {"data": {"name": "Dm"}, "mark": {"type": "line", "interpolate": "monotone", "color": "#f26b25", "strokeWidth": 7, "strokeDash": [8, 5]},
    "encoding": {"x": {"field": "t", "type": "quantitative"}, "y": {"field": "v", "type": "quantitative"}}}
  ]},
  {"data": {"name": "Dm"}, "mark": {"type": "line", "opacity": 0},
   "encoding": {
    "x": {"field": "t", "type": "quantitative", "axis": {"orient": "top", "labels": false, "domain": false, "title": null, "values": [0,5,10,15,20,25,30]}},
    "y": {"field": "v", "type": "quantitative", "axis": {"orient": "right", "labels": false, "domain": false, "title": null, "values": [0,100,200,300,400,500,600,700]}}
   }}
 ],
 "resolve": {"axis": {"x": "independent", "y": "independent"}}
}
]
}
